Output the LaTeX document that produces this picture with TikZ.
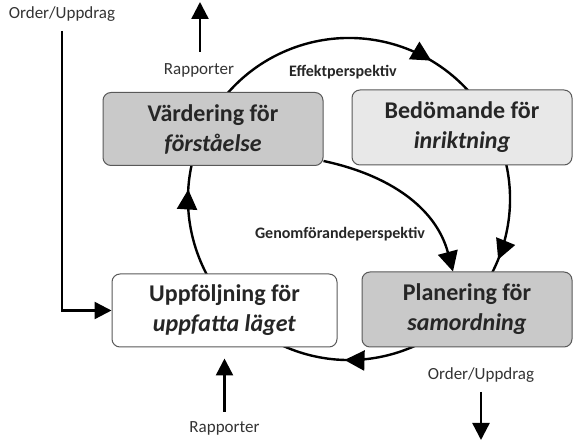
\documentclass[tikz,border=0pt]{standalone}
\usepackage{fontspec}
\setmainfont{Carlito}
\usetikzlibrary{arrows.meta,decorations.markings}
\tikzset{
  box/.style={draw=black!65, line width=1pt, rounded corners=8pt, minimum height=73pt,
    align=center, font=\bfseries\fontsize{24}{30}\selectfont, text=black!85},
  lbl/.style={font=\fontsize{17}{19}\selectfont, text=black!80},
  perspektiv/.style={font=\bfseries\fontsize{16}{18}\selectfont, text=black!85},
  arr/.style={line width=2.4pt, -{Triangle[length=17pt,width=17pt]}},
  bigtip/.style={-{Triangle[length=20pt,width=20pt]}},
}
\begin{document}
\begin{tikzpicture}[x=1pt,y=1pt]
\useasboundingbox (0,0) rectangle (574,442);

% the cycle
\draw[line width=2.4pt, decoration={markings,
    mark=at position 0.065 with {\arrow{Triangle[length=20pt,width=20pt]}},
    mark=at position 0.391 with {\arrow{Triangle[length=20pt,width=20pt]}},
    mark=at position 0.617 with {\arrow{Triangle[length=20pt,width=20pt]}},
    mark=at position 0.81 with {\arrow{Triangle[length=20pt,width=20pt]}}},
    postaction={decorate}]
  (349,243) ++(200:161) arc[start angle=200, end angle=-160, radius=161];

% the four steps
\node[box, fill=gray!42, minimum width=220pt] (vard) at (213,313) {V\"ardering f\"or\\\textit{f\"orst\aa else}};
\node[box, fill=gray!18, minimum width=220pt, minimum height=75pt] (bedo) at (462,314.5) {Bed\"omande f\"or\\\textit{inriktning}};
\node[box, fill=white, minimum width=225pt] (uppf) at (224.5,131.5) {Uppf\"oljning f\"or\\\textit{uppfatta l\"aget}};
\node[box, fill=gray!42, minimum width=210pt, minimum height=75pt] (plan) at (467,132.5) {Planering f\"or\\\textit{samordning}};

% perspectives
\node[perspektiv] (effekt) at (343,370) {Effektperspektiv};
\node[perspektiv] (genom) at (340,208) {Genomf\"orandeperspektiv};
\draw[line width=2.4pt, bigtip] ([yshift=5pt]vard.south east) to[out=-12, in=105] ([xshift=-14pt]plan.north);

% in and out
\node[lbl] (rapptop) at (199,372) {Rapporter};
\coordinate (rapphead) at (200,440);
\draw[arr, shorten <=8pt] (rapptop.north -| rapphead) -- (rapphead);

\node[lbl] (ordtop) at (62,428) {Order/Uppdrag};
\draw[arr, shorten <=6pt] (ordtop.south) |- (uppf.west);

\node[lbl] (rappbot) at (224.5,14) {Rapporter};
\draw[arr, shorten <=6pt, shorten >=11pt] (rappbot.north) -- (rappbot.north |- uppf.south);

\node[lbl] (ordbot) at (481,67) {Order/Uppdrag};
\coordinate (ordhead) at (481,2);
\draw[arr, shorten <=6pt] (ordbot.south) -- (ordhead);
\end{tikzpicture}
\end{document}
